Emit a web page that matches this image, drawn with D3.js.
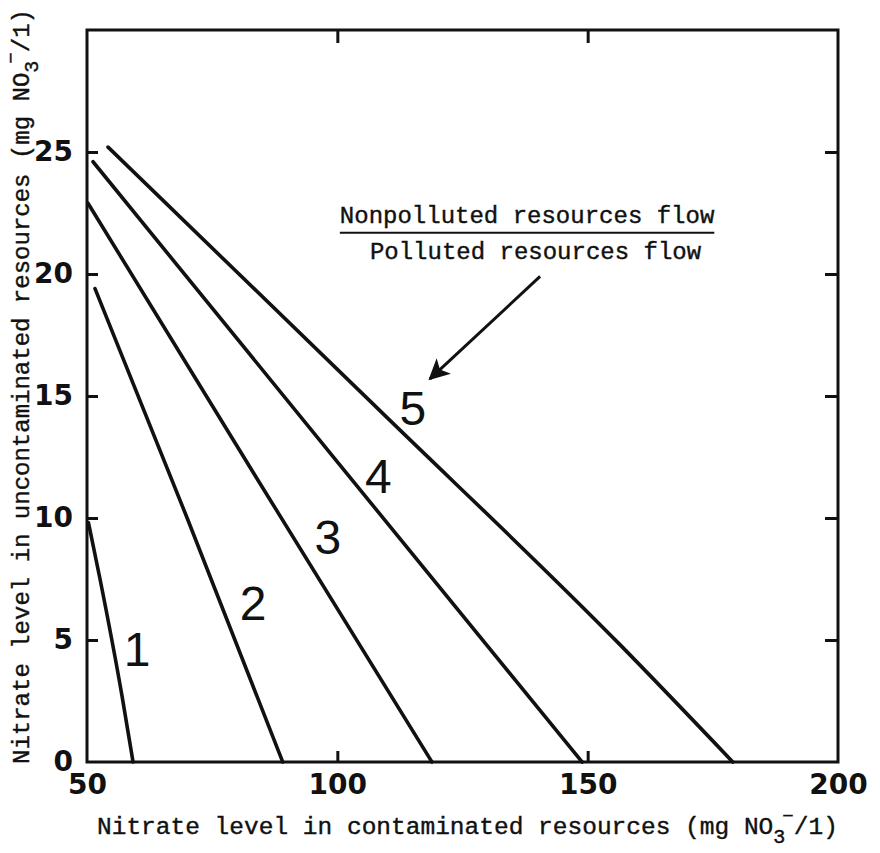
<!DOCTYPE html>
<html>
<head>
<meta charset="utf-8">
<script src="https://cdn.jsdelivr.net/npm/d3@7"></script>
<style>
  body { margin: 0; background: #fff; }
  svg { display: block; }
</style>
</head>
<body>
<svg id="chart" width="880" height="853"></svg>
<script>
// Tick values
const xTicks = [50, 100, 150, 200];
const yTicks = [0, 5, 10, 15, 20, 25];
const innerTicksX = [100, 150];
const innerTicksY = [5, 10, 15, 20, 25];

// Mixing curves: [nitrate in contaminated water, nitrate in uncontaminated water]
const ratio1 = [[50.3, 9.8], [52.6, 7.5], [57.0, 2.7], [59.2, 0]];
const ratio2 = [[51.6, 19.4], [70.0, 10.0], [89.1, 0]];
const ratio3 = [[50.2, 22.9], [84.0, 11.6], [118.9, 0]];
const ratio4 = [[51.2, 24.6], [100.0, 12.3], [148.9, 0]];
const ratio5 = [[54.2, 25.2], [108.5, 14.4], [156.5, 4.8], [179.0, 0]];
const curves = [ratio1, ratio2, ratio3, ratio4, ratio5];

// Curve numbers and where they sit (data units)
const curveLabels = ["1", "2", "3", "4", "5"];
const labelAt = [[60.0, 4.6], [83.2, 6.5], [98.1, 9.2], [108.2, 11.7], [115.1, 14.5]];

// Legend fraction and arrow (data units)
const legendTop = "Nonpolluted resources flow";
const legendBottom = "Polluted resources flow";
const legendAt = [[100.5, 22.1], [106.5, 20.6]];
const arrowFrom = [140.5, 19.9];
const arrowTo = [118.5, 15.7];

const svg = d3.select("#chart");
const margin = { left: 87, right: 42, top: 30, bottom: 91 };
const W = 880, H = 853;

const x = d3.scaleLinear().domain([50, 200]).range([margin.left, W - margin.right]);
const y = d3.scaleLinear().domain([0, 30]).range([H - margin.bottom, margin.top]);

const ink = "#111";

// Frame
svg.append("rect")
  .attr("x", x(50)).attr("y", y(30))
  .attr("width", x(200) - x(50)).attr("height", y(0) - y(30))
  .attr("fill", "none").attr("stroke", ink).attr("stroke-width", 3);

const tickFont = "'DejaVu Sans', sans-serif";

// Left axis labels
const yAxisL = svg.append("g")
  .attr("transform", `translate(${x(50)},0)`)
  .call(d3.axisLeft(y).tickValues(yTicks).tickSize(0).tickPadding(14).tickFormat(d3.format("d")));
yAxisL.select(".domain").remove();
yAxisL.selectAll("text")
  .attr("font-family", tickFont).attr("font-weight", "bold").attr("font-size", 28).attr("fill", ink);

// Bottom axis labels
const xAxisB = svg.append("g")
  .attr("transform", `translate(0,${y(0)})`)
  .call(d3.axisBottom(x).tickValues(xTicks).tickSize(0).tickPadding(12).tickFormat(d3.format("d")));
xAxisB.select(".domain").remove();
xAxisB.selectAll("text")
  .attr("font-family", tickFont).attr("font-weight", "bold").attr("font-size", 28).attr("fill", ink);

// Inward tick marks on all four sides
function tickGroup(axis, tx, ty) {
  const g = svg.append("g").attr("transform", `translate(${tx},${ty})`).call(axis);
  g.select(".domain").remove();
  g.selectAll("text").remove();
  g.selectAll("line").attr("stroke", ink).attr("stroke-width", 3);
}
tickGroup(d3.axisLeft(y).tickValues(innerTicksY).tickSize(-11), x(50), 0);
tickGroup(d3.axisRight(y).tickValues(innerTicksY).tickSize(-13), x(200), 0);
tickGroup(d3.axisBottom(x).tickValues(innerTicksX).tickSize(-11), 0, y(0));
tickGroup(d3.axisTop(x).tickValues(innerTicksX).tickSize(-13), 0, y(30));

// Curves
const line = d3.line().x(d => x(d[0])).y(d => y(d[1])).curve(d3.curveMonotoneX);
svg.append("g").selectAll("path")
  .data(curves)
  .join("path")
  .attr("d", line)
  .attr("fill", "none")
  .attr("stroke", ink)
  .attr("stroke-width", 3.6)
  .attr("stroke-linecap", "round");

// Curve numbers
svg.append("g").selectAll("text")
  .data(curveLabels)
  .join("text")
  .attr("x", (d, i) => x(labelAt[i][0]))
  .attr("y", (d, i) => y(labelAt[i][1]))
  .attr("text-anchor", "middle")
  .attr("dominant-baseline", "central")
  .attr("font-family", "'Liberation Sans', Arial, sans-serif")
  .attr("font-size", 48)
  .attr("fill", ink)
  .text(d => d);

const typeFont = "'Liberation Mono', 'Courier New', monospace";

// Legend fraction
const legend = svg.append("g")
  .attr("font-family", typeFont).attr("font-size", 24).attr("fill", ink)
  .attr("stroke", ink).attr("stroke-width", 0.4);
const topText = legend.append("text")
  .attr("x", x(legendAt[0][0])).attr("y", y(legendAt[0][1]))
  .text(legendTop);
legend.append("text")
  .attr("x", x(legendAt[1][0])).attr("y", y(legendAt[1][1]))
  .text(legendBottom);
const tw = topText.node().getComputedTextLength();
svg.append("line")
  .attr("x1", x(legendAt[0][0])).attr("x2", x(legendAt[0][0]) + tw)
  .attr("y1", y(legendAt[0][1]) + 10).attr("y2", y(legendAt[0][1]) + 10)
  .attr("stroke", ink).attr("stroke-width", 2);

// Arrow pointing at curve 5
svg.append("defs").append("marker")
  .attr("id", "head")
  .attr("viewBox", "0 0 10 10")
  .attr("refX", 9).attr("refY", 5)
  .attr("markerWidth", 9).attr("markerHeight", 7)
  .attr("markerUnits", "strokeWidth")
  .attr("orient", "auto")
  .append("path")
  .attr("d", "M0,0 L10,5 L0,10 L2.5,5 Z")
  .attr("fill", ink);
svg.append("line")
  .attr("x1", x(arrowFrom[0])).attr("y1", y(arrowFrom[1]))
  .attr("x2", x(arrowTo[0])).attr("y2", y(arrowTo[1]))
  .attr("stroke", ink).attr("stroke-width", 3)
  .attr("marker-end", "url(#head)");

// Axis titles
function titleWithUnits(sel, lead) {
  sel.append("tspan").text(lead + " (mg NO");
  sel.append("tspan").attr("dy", 9).attr("font-size", 20).text("3");
  sel.append("tspan").attr("dy", -21).attr("dx", -3).attr("font-size", 19).text("\u2212");
  sel.append("tspan").attr("dy", 12).text("/1)");
}
const xTitle = svg.append("text")
  .attr("x", 97).attr("y", 834)
  .attr("font-family", typeFont).attr("font-size", 24.5).attr("fill", ink)
  .attr("stroke", ink).attr("stroke-width", 0.4);
titleWithUnits(xTitle, "Nitrate level in contaminated resources");

const yTitle = svg.append("text")
  .attr("transform", "translate(29,764) rotate(-90)")
  .attr("font-family", typeFont).attr("font-size", 24).attr("fill", ink)
  .attr("stroke", ink).attr("stroke-width", 0.4);
titleWithUnits(yTitle, "Nitrate level in uncontaminated resources");
</script>
</body>
</html>
